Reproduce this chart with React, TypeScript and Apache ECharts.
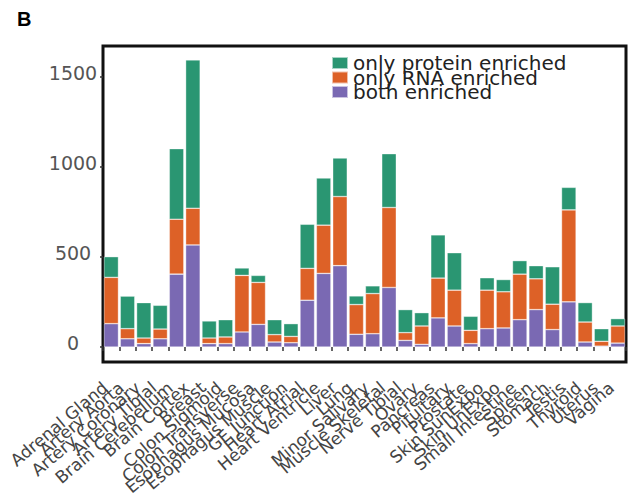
import React, { useEffect, useRef } from "react";
import * as echarts from "echarts";

const categories = [
  "Adrenal Gland", "Artery Aorta", "Artery Coronary", "Artery Tibial", "Brain Cerebellum",
  "Brain Cortex", "Breast", "Colon Sigmoid", "Colon Transverse", "Esophagus Mucosa",
  "Esophagus Muscle", "GE Junction", "Heart Atrial", "Heart Ventricle", "Liver", "Lung",
  "Minor Salivary", "Muscle Skeletal", "Nerve Tibial", "Ovary", "Pancreas", "Pituitary",
  "Prostate", "Skin SunExpo", "Skin UnExpo", "Small Intestine", "Spleen", "Stomach",
  "Testis", "Thyroid", "Uterus", "Vagina",
];

const bothEnriched = [130, 46, 19, 46, 405, 567, 19, 19, 84, 126, 28, 24, 260, 409, 452, 71, 74, 331, 37, 15, 162, 117, 19, 102, 106, 152, 208, 97, 251, 28, 5, 22];
const onlyRna = [257, 56, 31, 54, 305, 204, 31, 37, 314, 233, 41, 35, 177, 268, 384, 165, 223, 444, 43, 102, 221, 199, 74, 214, 201, 253, 171, 141, 511, 111, 27, 95];
const onlyProtein = [115, 181, 197, 132, 392, 824, 95, 96, 41, 39, 83, 71, 245, 262, 214, 48, 43, 299, 128, 74, 240, 208, 78, 69, 68, 75, 73, 208, 125, 108, 70, 41];

const yTicks = [0, 500, 1000, 1500];
const legendNames = ["only protein enriched", "only RNA enriched", "both enriched"];

export default function App() {
  const ref = useRef<HTMLDivElement>(null);
  useEffect(() => {
    document.body.style.margin = "0";
    const chart = echarts.init(ref.current!, null, { renderer: "svg" });
    const font = "DejaVu Sans";
    const seg = { borderColor: "rgba(255,255,255,0.6)", borderWidth: 0.6 };
    chart.setOption({
      animation: false,
      backgroundColor: "#ffffff",
      grid: {
        left: 103, right: 3, top: 46, bottom: 137,
        show: true, borderColor: "#111", borderWidth: 3, backgroundColor: "#fff",
      },
      legend: {
        orient: "vertical",
        left: 326, top: 48,
        itemWidth: 16, itemHeight: 12, itemGap: -5.5,
        icon: "rect",
        data: legendNames,
        textStyle: { fontFamily: font, fontSize: 20, lineHeight: 12, color: "#222" },
      },
      graphic: [
        {
          type: "text", left: 17, top: 9,
          style: { text: "B", fontFamily: "Liberation Sans", fontWeight: "bold", fontSize: 20, fill: "#000" },
        },
      ],
      xAxis: {
        type: "category",
        data: categories,
        axisLine: { show: false },
        axisTick: { show: true, length: 4, lineStyle: { color: "#333", width: 1.5 } },
        axisLabel: {
          rotate: 40, interval: 0, margin: 18,
          fontFamily: font, fontSize: 17, color: "#444",
          padding: [0, 8, 0, 0],
        },
      },
      yAxis: {
        type: "value",
        min: -83, max: 1672,
        splitLine: { show: false },
        axisLine: { show: false },
        axisTick: { show: true, length: 3, customValues: yTicks, lineStyle: { color: "#333", width: 1.5 } },
        axisLabel: {
          customValues: yTicks, margin: 30, align: "center",
          verticalAlign: "bottom", lineHeight: 8,
          fontFamily: font, fontSize: 19, color: "#555",
          formatter: (v: number) => String(v),
        },
      },
      series: [
        {
          name: "both enriched", type: "bar", stack: "total", data: bothEnriched,
          barCategoryGap: "11%",
          itemStyle: { color: "#7a69b3", ...seg },
        },
        {
          name: "only RNA enriched", type: "bar", stack: "total", data: onlyRna,
          itemStyle: { color: "#dd6127", ...seg },
        },
        {
          name: "only protein enriched", type: "bar", stack: "total", data: onlyProtein,
          itemStyle: { color: "#2a9672", ...seg },
        },
      ],
    });
    return () => chart.dispose();
  }, []);
  return <div ref={ref} style={{ width: 629, height: 499 }} />;
}
